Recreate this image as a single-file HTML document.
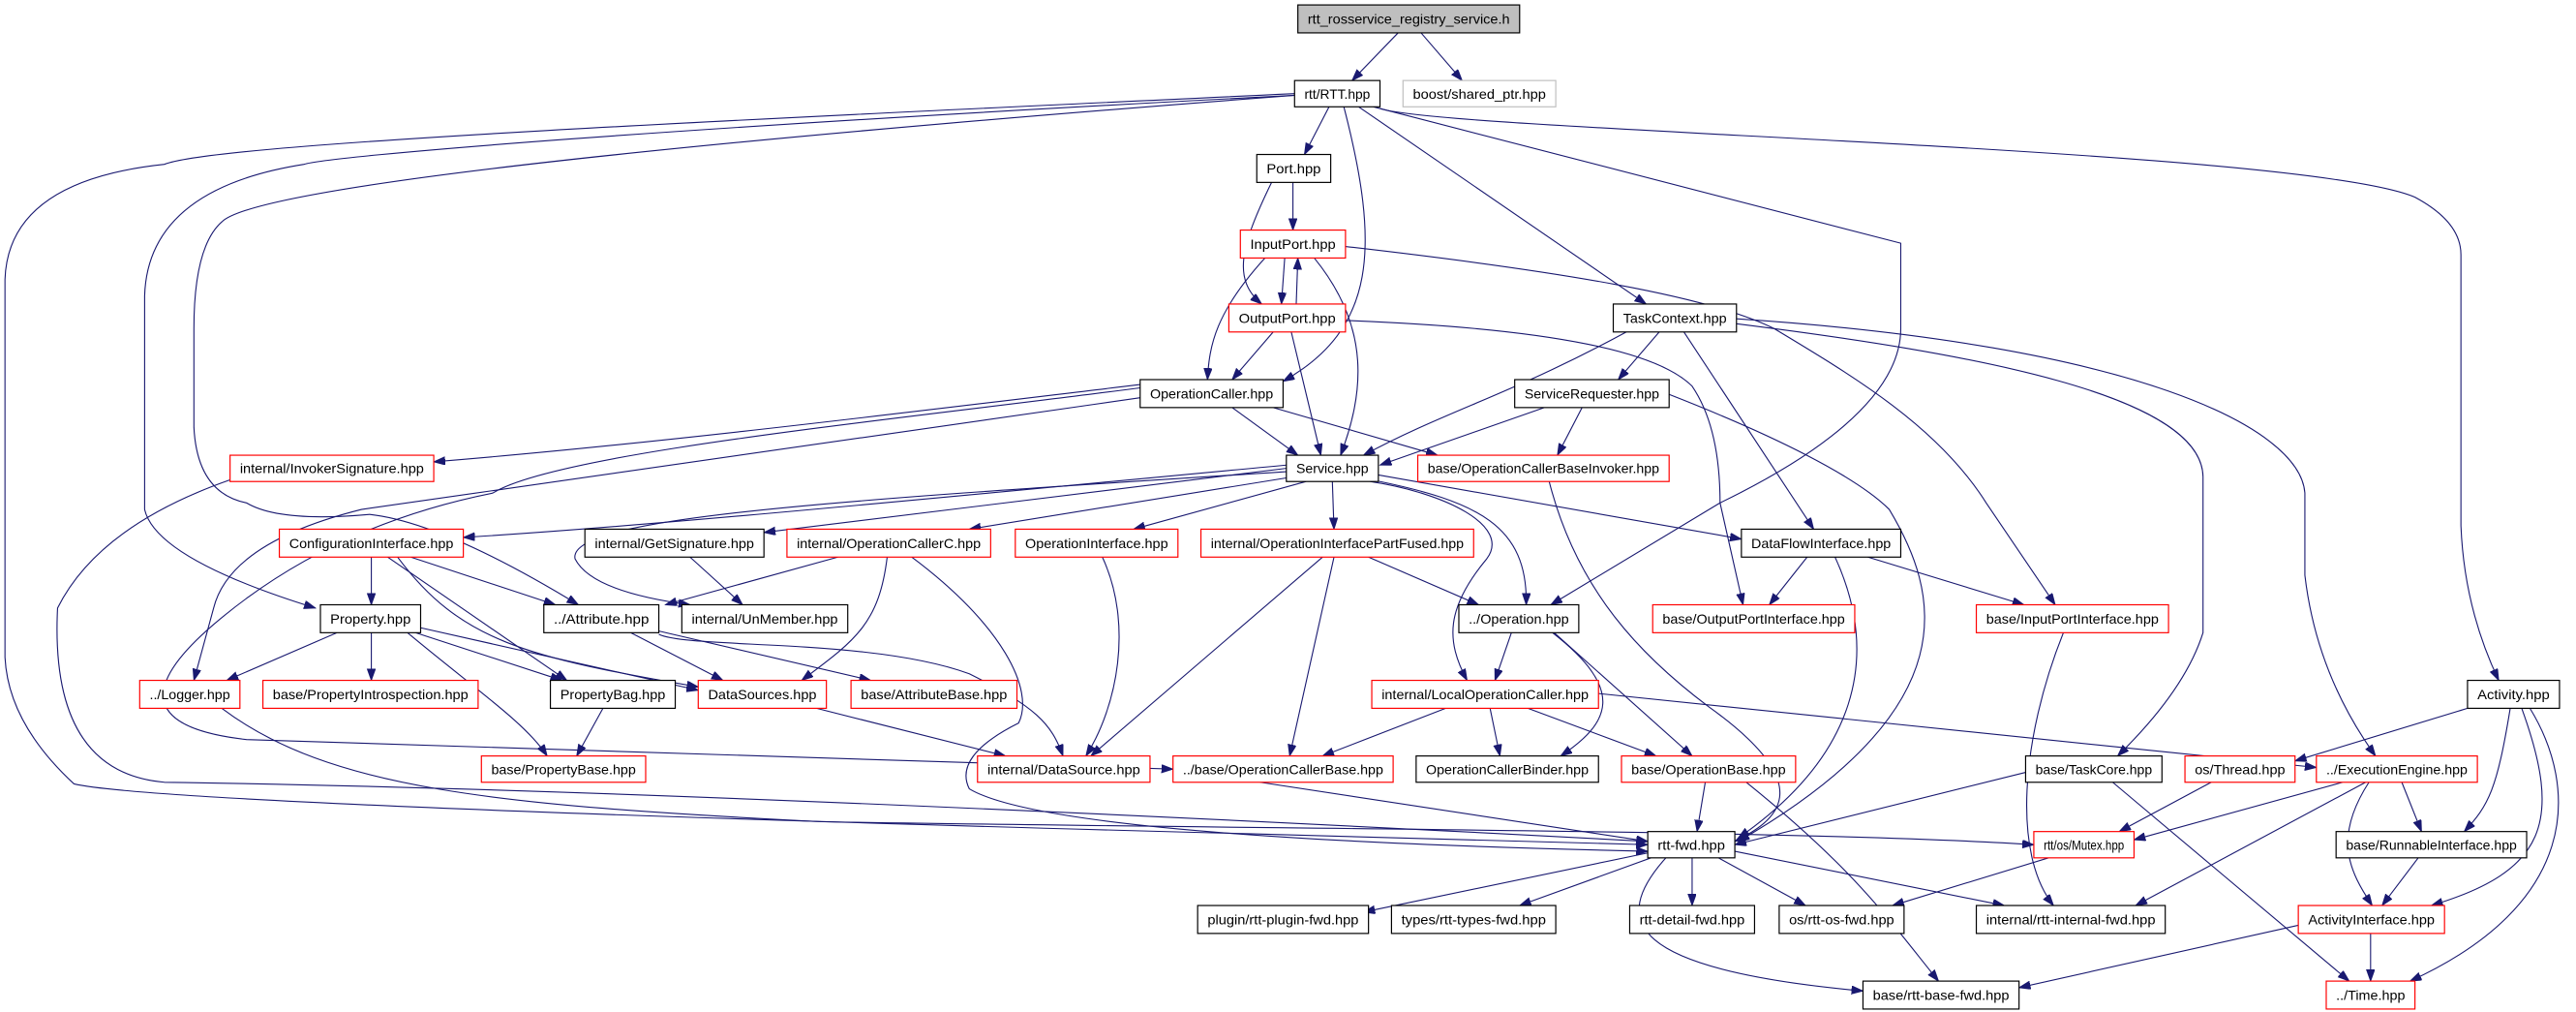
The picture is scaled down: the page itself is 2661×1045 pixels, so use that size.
<!DOCTYPE html>
<html><head><meta charset="utf-8"><style>
html,body{margin:0;padding:0;background:#fff;}
svg{display:block;}
text{font-family:"Liberation Sans",sans-serif;font-size:8px;fill:#000;}
.e{fill:none;stroke:#191970;stroke-width:0.65;}
.n{fill:#fff;stroke:#000;stroke-width:0.7;}
.r{fill:#fff;stroke:#ff0000;stroke-width:0.7;}
</style></head><body>
<svg width="2661" height="1045" viewBox="0 0 1568 615.8" xmlns="http://www.w3.org/2000/svg">
<defs><marker id="a" markerUnits="userSpaceOnUse" markerWidth="8" markerHeight="6" refX="7" refY="2.5" orient="auto"><path d="M0,0 L7,2.5 L0,5 z" fill="#191970" stroke="#191970" stroke-width="0.5"/></marker></defs>
<g marker-end="url(#a)">
<path class="e" d="M851,20 L823,49"/>
<path class="e" d="M865,20 L890,49"/>
<path class="e" d="M809,65 L794,94"/>
<path class="e" d="M818,65 C840,150 838,200 781,232"/>
<path class="e" d="M827,65 L1002,185"/>
<path class="e" d="M836,65 L1157,148 L1157,200 C1157,250 1080,290 1047,306 L944,368"/>
<path class="e" d="M840,66 C880,80 1400,90 1470,120 Q1498,135 1498,155 L1498,320 Q1500,370 1521,414"/>
<path class="e" d="M788,57 C400,75 130,88 100,100 Q5,110 3,170 L3,400 Q5,440 45,477 Q100,490 784,508 L1003,514"/>
<path class="e" d="M788,58 C400,78 200,95 185,100 Q90,115 88,180 L88,310 Q95,340 192,370"/>
<path class="e" d="M788,58 C500,80 160,110 135,135 Q118,150 118,200 L118,260 Q120,300 150,306 Q170,318 225,313 Q270,318 352,368"/>
<path class="e" d="M787,111 L787,140"/>
<path class="e" d="M774,111 C755,150 750,170 768,185"/>
<path class="e" d="M782,157 L780,185"/>
<path class="e" d="M789,185 L790,157"/>
<path class="e" d="M770,157 C740,190 736,210 735,231"/>
<path class="e" d="M800,157 C835,200 830,240 816,277"/>
<path class="e" d="M819,150 C950,165 1040,180 1080,200 C1130,230 1180,260 1209,306 L1251,368"/>
<path class="e" d="M775,202 L750,231"/>
<path class="e" d="M786,202 L804,277"/>
<path class="e" d="M819,195 C950,200 1010,215 1030,235 Q1047,260 1047,306 L1061,368"/>
<path class="e" d="M694,234 C560,250 400,270 264,281"/>
<path class="e" d="M750,248 L790,277"/>
<path class="e" d="M775,248 L875,277"/>
<path class="e" d="M694,242 C500,270 300,300 220,310 Q140,330 130,370 L118,414"/>
<path class="e" d="M694,236 C550,255 340,275 300,300 Q200,320 130,380 Q60,440 150,450 L714,468"/>
<path class="e" d="M140,292 Q60,320 35,370 Q30,470 100,476 Q400,480 1003,512"/>
<path class="e" d="M990,202 C920,240 880,250 830,277"/>
<path class="e" d="M1010,202 L985,231"/>
<path class="e" d="M1025,202 L1104,322"/>
<path class="e" d="M1057,197 C1200,215 1340,240 1341,290 L1341,385 Q1330,420 1289,460"/>
<path class="e" d="M1057,194 C1300,210 1400,260 1403,300 L1403,350 Q1410,410 1446,460"/>
<path class="e" d="M940,248 L840,283"/>
<path class="e" d="M963,248 L948,277"/>
<path class="e" d="M1016,240 C1080,265 1130,290 1150,310 C1180,360 1200,430 1058,512"/>
<path class="e" d="M943,293 C960,360 1000,400 1040,430 C1110,480 1080,500 1056,512"/>
<path class="e" d="M783,283 C600,300 400,320 282,327"/>
<path class="e" d="M783,285 L465,324"/>
<path class="e" d="M788,290 L590,322"/>
<path class="e" d="M795,293 L690,322"/>
<path class="e" d="M811,293 L812,322"/>
<path class="e" d="M839,289 L1060,328"/>
<path class="e" d="M835,292 C900,305 930,320 929,368"/>
<path class="e" d="M834,293 C880,300 920,320 905,340 C880,370 880,390 893,414"/>
<path class="e" d="M783,287 C500,305 345,315 350,340 Q360,360 420,368"/>
<path class="e" d="M555,339 C610,380 630,420 620,440 Q580,460 590,480 Q640,510 1003,518"/>
<path class="e" d="M226,339 L226,368"/>
<path class="e" d="M250,339 L338,368"/>
<path class="e" d="M236,339 L345,414"/>
<path class="e" d="M242,339 C280,390 320,400 425,418"/>
<path class="e" d="M420,339 L452,368"/>
<path class="e" d="M510,339 L405,368"/>
<path class="e" d="M540,339 C535,380 520,390 488,414"/>
<path class="e" d="M671,339 C690,380 680,430 661,460"/>
<path class="e" d="M833,339 L900,368"/>
<path class="e" d="M805,339 L664,460"/>
<path class="e" d="M812,339 L785,460"/>
<path class="e" d="M1100,339 L1077,368"/>
<path class="e" d="M1137,339 L1232,368"/>
<path class="e" d="M1117,339 C1145,400 1130,460 1058,510"/>
<path class="e" d="M205,385 L138,414"/>
<path class="e" d="M226,385 L226,414"/>
<path class="e" d="M253,385 L342,414"/>
<path class="e" d="M256,382 L425,420"/>
<path class="e" d="M248,385 C290,420 320,440 333,460"/>
<path class="e" d="M384,385 L440,414"/>
<path class="e" d="M401,384 L530,414"/>
<path class="e" d="M401,386 C420,395 530,388 590,410 C630,430 640,440 647,460"/>
<path class="e" d="M920,385 L910,414"/>
<path class="e" d="M946,385 L1030,460"/>
<path class="e" d="M945,385 C990,420 980,440 950,460"/>
<path class="e" d="M1256,385 C1230,450 1225,520 1250,551"/>
<path class="e" d="M135,431 C200,480 300,490 500,500 C800,505 1100,505 1238,514"/>
<path class="e" d="M367,431 L351,460"/>
<path class="e" d="M497,431 L612,460"/>
<path class="e" d="M880,431 L805,460"/>
<path class="e" d="M907,431 L913,460"/>
<path class="e" d="M930,431 L1008,460"/>
<path class="e" d="M973,422 L1410,467"/>
<path class="e" d="M1502,431 L1397,463"/>
<path class="e" d="M1528,431 C1520,480 1515,490 1500,506"/>
<path class="e" d="M1535,431 C1560,500 1550,530 1480,551"/>
<path class="e" d="M1540,431 C1570,480 1570,550 1467,597"/>
<path class="e" d="M767,476 L1003,512"/>
<path class="e" d="M1038,476 L1033,506"/>
<path class="e" d="M1063,476 C1130,530 1150,560 1180,597"/>
<path class="e" d="M1233,470 L1056,514"/>
<path class="e" d="M1286,476 L1430,597"/>
<path class="e" d="M1346,476 L1290,506"/>
<path class="e" d="M1426,476 L1299,511"/>
<path class="e" d="M1462,476 L1474,506"/>
<path class="e" d="M1442,476 C1420,510 1430,530 1444,551"/>
<path class="e" d="M1440,476 L1300,551"/>
<path class="e" d="M1003,519 L830,555"/>
<path class="e" d="M1005,522 L925,551"/>
<path class="e" d="M1030,522 L1030,551"/>
<path class="e" d="M1046,522 L1099,551"/>
<path class="e" d="M1056,518 L1220,551"/>
<path class="e" d="M1014,522 C980,560 990,590 1134,603"/>
<path class="e" d="M1247,522 L1152,551"/>
<path class="e" d="M1472,522 L1450,551"/>
<path class="e" d="M1399,563 L1229,601"/>
<path class="e" d="M1443,568 L1443,597"/>
</g>
<g text-anchor="middle" lengthAdjust="spacingAndGlyphs">
<rect x="790" y="3" width="135" height="17" fill="#bfbfbf" stroke="#000" stroke-width="0.7"/><text x="857.5" y="14.5" textLength="123" lengthAdjust="spacingAndGlyphs">rtt_rosservice_registry_service.h</text>
<rect class="n" x="788" y="49" width="52" height="16"/><text x="814" y="60" textLength="40" lengthAdjust="spacingAndGlyphs">rtt/RTT.hpp</text>
<rect x="854" y="49" width="93" height="16" fill="#fff" stroke="#bfbfbf" stroke-width="0.7"/><text x="900.5" y="60" textLength="81" lengthAdjust="spacingAndGlyphs">boost/shared_ptr.hpp</text>
<rect class="n" x="765" y="94" width="45" height="17"/><text x="787.5" y="105.5" textLength="33" lengthAdjust="spacingAndGlyphs">Port.hpp</text>
<rect class="r" x="755" y="140" width="64" height="17"/><text x="787" y="151.5" textLength="52" lengthAdjust="spacingAndGlyphs">InputPort.hpp</text>
<rect class="r" x="748" y="185" width="71" height="17"/><text x="783.5" y="196.5" textLength="59" lengthAdjust="spacingAndGlyphs">OutputPort.hpp</text>
<rect class="n" x="694" y="231" width="87" height="17"/><text x="737.5" y="242.5" textLength="75" lengthAdjust="spacingAndGlyphs">OperationCaller.hpp</text>
<rect class="r" x="140" y="277" width="124" height="16"/><text x="202" y="288" textLength="112" lengthAdjust="spacingAndGlyphs">internal/InvokerSignature.hpp</text>
<rect class="n" x="982" y="185" width="75" height="17"/><text x="1019.5" y="196.5" textLength="63" lengthAdjust="spacingAndGlyphs">TaskContext.hpp</text>
<rect class="n" x="922" y="231" width="94" height="17"/><text x="969" y="242.5" textLength="82" lengthAdjust="spacingAndGlyphs">ServiceRequester.hpp</text>
<rect class="n" x="783" y="277" width="56" height="16"/><text x="811" y="288" textLength="44" lengthAdjust="spacingAndGlyphs">Service.hpp</text>
<rect class="r" x="863" y="277" width="153" height="16"/><text x="939.5" y="288" textLength="141" lengthAdjust="spacingAndGlyphs">base/OperationCallerBaseInvoker.hpp</text>
<rect class="r" x="170" y="322" width="112" height="17"/><text x="226" y="333.5" textLength="100" lengthAdjust="spacingAndGlyphs">ConfigurationInterface.hpp</text>
<rect class="n" x="356" y="322" width="109" height="17"/><text x="410.5" y="333.5" textLength="97" lengthAdjust="spacingAndGlyphs">internal/GetSignature.hpp</text>
<rect class="r" x="479" y="322" width="124" height="17"/><text x="541" y="333.5" textLength="112" lengthAdjust="spacingAndGlyphs">internal/OperationCallerC.hpp</text>
<rect class="r" x="618" y="322" width="99" height="17"/><text x="667.5" y="333.5" textLength="87" lengthAdjust="spacingAndGlyphs">OperationInterface.hpp</text>
<rect class="r" x="731" y="322" width="166" height="17"/><text x="814" y="333.5" textLength="154" lengthAdjust="spacingAndGlyphs">internal/OperationInterfacePartFused.hpp</text>
<rect class="n" x="1060" y="322" width="97" height="17"/><text x="1108.5" y="333.5" textLength="85" lengthAdjust="spacingAndGlyphs">DataFlowInterface.hpp</text>
<rect class="n" x="195" y="368" width="61" height="17"/><text x="225.5" y="379.5" textLength="49" lengthAdjust="spacingAndGlyphs">Property.hpp</text>
<rect class="n" x="331" y="368" width="70" height="17"/><text x="366" y="379.5" textLength="58" lengthAdjust="spacingAndGlyphs">../Attribute.hpp</text>
<rect class="n" x="415" y="368" width="101" height="17"/><text x="465.5" y="379.5" textLength="89" lengthAdjust="spacingAndGlyphs">internal/UnMember.hpp</text>
<rect class="n" x="888" y="368" width="73" height="17"/><text x="924.5" y="379.5" textLength="61" lengthAdjust="spacingAndGlyphs">../Operation.hpp</text>
<rect class="r" x="1006" y="368" width="123" height="17"/><text x="1067.5" y="379.5" textLength="111" lengthAdjust="spacingAndGlyphs">base/OutputPortInterface.hpp</text>
<rect class="r" x="1203" y="368" width="117" height="17"/><text x="1261.5" y="379.5" textLength="105" lengthAdjust="spacingAndGlyphs">base/InputPortInterface.hpp</text>
<rect class="r" x="85" y="414" width="61" height="17"/><text x="115.5" y="425.5" textLength="49" lengthAdjust="spacingAndGlyphs">../Logger.hpp</text>
<rect class="r" x="160" y="414" width="131" height="17"/><text x="225.5" y="425.5" textLength="119" lengthAdjust="spacingAndGlyphs">base/PropertyIntrospection.hpp</text>
<rect class="n" x="335" y="414" width="76" height="17"/><text x="373" y="425.5" textLength="64" lengthAdjust="spacingAndGlyphs">PropertyBag.hpp</text>
<rect class="r" x="425" y="414" width="78" height="17"/><text x="464" y="425.5" textLength="66" lengthAdjust="spacingAndGlyphs">DataSources.hpp</text>
<rect class="r" x="518" y="414" width="101" height="17"/><text x="568.5" y="425.5" textLength="89" lengthAdjust="spacingAndGlyphs">base/AttributeBase.hpp</text>
<rect class="r" x="835" y="414" width="138" height="17"/><text x="904" y="425.5" textLength="126" lengthAdjust="spacingAndGlyphs">internal/LocalOperationCaller.hpp</text>
<rect class="n" x="1502" y="414" width="56" height="17"/><text x="1530" y="425.5" textLength="44" lengthAdjust="spacingAndGlyphs">Activity.hpp</text>
<rect class="r" x="293" y="460" width="100" height="16"/><text x="343" y="471" textLength="88" lengthAdjust="spacingAndGlyphs">base/PropertyBase.hpp</text>
<rect class="r" x="595" y="460" width="105" height="16"/><text x="647.5" y="471" textLength="93" lengthAdjust="spacingAndGlyphs">internal/DataSource.hpp</text>
<rect class="r" x="714" y="460" width="134" height="16"/><text x="781" y="471" textLength="122" lengthAdjust="spacingAndGlyphs">../base/OperationCallerBase.hpp</text>
<rect class="n" x="862" y="460" width="111" height="16"/><text x="917.5" y="471" textLength="99" lengthAdjust="spacingAndGlyphs">OperationCallerBinder.hpp</text>
<rect class="r" x="987" y="460" width="106" height="16"/><text x="1040" y="471" textLength="94" lengthAdjust="spacingAndGlyphs">base/OperationBase.hpp</text>
<rect class="n" x="1233" y="460" width="83" height="16"/><text x="1274.5" y="471" textLength="71" lengthAdjust="spacingAndGlyphs">base/TaskCore.hpp</text>
<rect class="r" x="1330" y="460" width="67" height="16"/><text x="1363.5" y="471" textLength="55" lengthAdjust="spacingAndGlyphs">os/Thread.hpp</text>
<rect class="r" x="1410" y="460" width="98" height="16"/><text x="1459" y="471" textLength="86" lengthAdjust="spacingAndGlyphs">../ExecutionEngine.hpp</text>
<rect class="n" x="1003" y="506" width="53" height="16"/><text x="1029.5" y="517" textLength="41" lengthAdjust="spacingAndGlyphs">rtt-fwd.hpp</text>
<rect class="r" x="1238" y="506" width="61" height="16"/><text x="1268.5" y="517" textLength="49" lengthAdjust="spacingAndGlyphs">rtt/os/Mutex.hpp</text>
<rect class="n" x="1422" y="506" width="116" height="16"/><text x="1480" y="517" textLength="104" lengthAdjust="spacingAndGlyphs">base/RunnableInterface.hpp</text>
<rect class="n" x="729" y="551" width="104" height="17"/><text x="781" y="562.5" textLength="92" lengthAdjust="spacingAndGlyphs">plugin/rtt-plugin-fwd.hpp</text>
<rect class="n" x="847" y="551" width="100" height="17"/><text x="897" y="562.5" textLength="88" lengthAdjust="spacingAndGlyphs">types/rtt-types-fwd.hpp</text>
<rect class="n" x="992" y="551" width="76" height="17"/><text x="1030" y="562.5" textLength="64" lengthAdjust="spacingAndGlyphs">rtt-detail-fwd.hpp</text>
<rect class="n" x="1083" y="551" width="76" height="17"/><text x="1121" y="562.5" textLength="64" lengthAdjust="spacingAndGlyphs">os/rtt-os-fwd.hpp</text>
<rect class="n" x="1203" y="551" width="115" height="17"/><text x="1260.5" y="562.5" textLength="103" lengthAdjust="spacingAndGlyphs">internal/rtt-internal-fwd.hpp</text>
<rect class="r" x="1399" y="551" width="89" height="17"/><text x="1443.5" y="562.5" textLength="77" lengthAdjust="spacingAndGlyphs">ActivityInterface.hpp</text>
<rect class="n" x="1134" y="597" width="95" height="17"/><text x="1181.5" y="608.5" textLength="83" lengthAdjust="spacingAndGlyphs">base/rtt-base-fwd.hpp</text>
<rect class="r" x="1416" y="597" width="54" height="17"/><text x="1443" y="608.5" textLength="42" lengthAdjust="spacingAndGlyphs">../Time.hpp</text>
</g>
</svg>
</body></html>
